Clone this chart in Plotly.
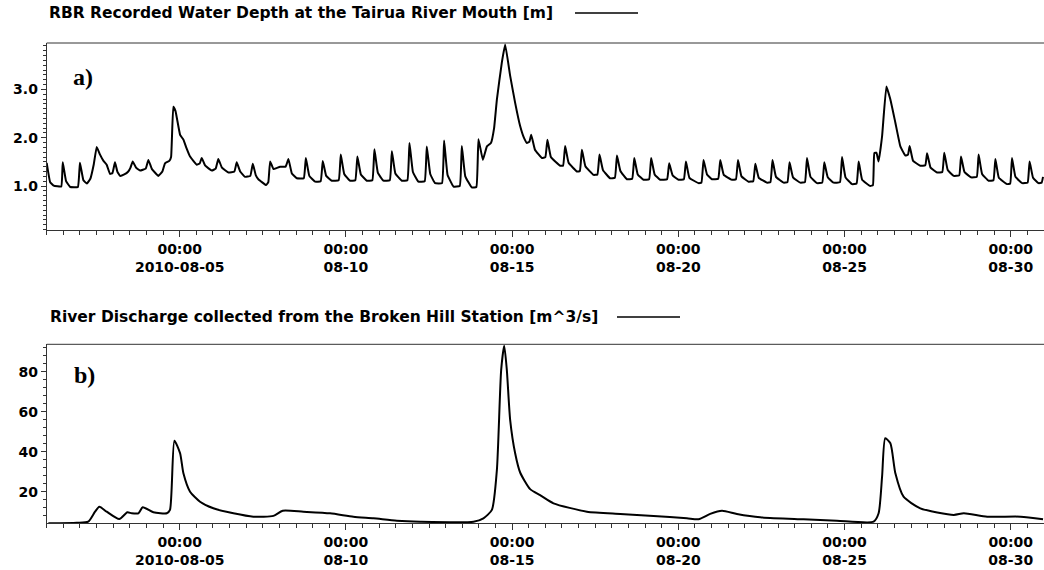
import pandas as pd
import plotly.graph_objects as go

START = "2010-08-01 00:00"

# (a) RBR water depth [m]: (hours since START, depth in m)
depth_readings = [
    (0.0, 1.48), (2.5, 1.08), (5.0, 1.01), (10.5, 0.99), (11.6, 1.49), (14.0, 1.10),
    (17.0, 0.98), (22.5, 0.98), (24.0, 1.48), (26.5, 1.12), (29.0, 1.05), (31.5, 1.15),
    (34.0, 1.45), (36.1, 1.81), (38.5, 1.65), (41.0, 1.52), (43.3, 1.44), (45.7, 1.25),
    (47.5, 1.27), (49.3, 1.49), (51.0, 1.30), (52.9, 1.21), (56.0, 1.24), (58.9, 1.30),
    (60.5, 1.38), (62.1, 1.51), (64.5, 1.38), (67.4, 1.32), (71.5, 1.36), (73.4, 1.54),
    (76.0, 1.35), (80.6, 1.21), (83.5, 1.30), (85.4, 1.47), (88.5, 1.52), (89.8, 1.60),
    (91.4, 2.64), (93.0, 2.55), (96.3, 2.06), (98.7, 1.96), (101.0, 1.78), (103.5, 1.61),
    (108.3, 1.44), (110.5, 1.47), (111.9, 1.58), (114.5, 1.42), (119.2, 1.32), (122.0, 1.36),
    (123.9, 1.56), (126.5, 1.38), (131.2, 1.28), (135.5, 1.30), (137.2, 1.49), (139.7, 1.30),
    (143.2, 1.19), (147.0, 1.21), (148.8, 1.46), (151.0, 1.22), (152.8, 1.14), (158.4, 1.02),
    (160.0, 1.08), (161.3, 1.51), (163.7, 1.35), (166.0, 1.37), (168.5, 1.40), (172.5, 1.40),
    (174.5, 1.56), (177.0, 1.26), (180.6, 1.16), (185.6, 1.16),
    (187.1, 1.58), (189.6, 1.21), (193.8, 1.09), (197.8, 1.10),
    (199.3, 1.52), (201.8, 1.21), (205.8, 1.11), (210.8, 1.12),
    (212.3, 1.65), (214.8, 1.25), (219.0, 1.11), (222.8, 1.12),
    (224.3, 1.61), (226.8, 1.24), (231.1, 1.11), (235.1, 1.12),
    (236.6, 1.76), (239.1, 1.27), (243.1, 1.11), (247.7, 1.12),
    (249.2, 1.72), (251.7, 1.26), (256.4, 1.11), (260.4, 1.12),
    (261.9, 1.89), (264.4, 1.29), (268.4, 1.09), (272.9, 1.10),
    (274.4, 1.82), (276.9, 1.25), (280.4, 1.06), (285.4, 1.06),
    (286.9, 1.94), (289.4, 1.23), (293.7, 0.99), (298.2, 1.00),
    (299.7, 1.83), (302.2, 1.20), (306.9, 0.97), (310.2, 0.98),
    (311.7, 1.97), (314.9, 1.54), (317.8, 1.82), (320.7, 1.89), (323.0, 2.20), (325.0, 2.79),
    (328.6, 3.56), (331.0, 3.93), (334.6, 3.28), (338.2, 2.72), (341.8, 2.24), (344.5, 2.00),
    (346.7, 1.89), (348.5, 1.92), (349.8, 2.06), (352.5, 1.75), (357.5, 1.58), (360.0, 1.60),
    (361.5, 1.96), (364.0, 1.60), (370.7, 1.42), (372.8, 1.42),
    (374.3, 1.83), (376.8, 1.48), (382.8, 1.30), (384.9, 1.31),
    (386.4, 1.75), (388.9, 1.41), (394.8, 1.23), (397.6, 1.24),
    (399.1, 1.65), (401.6, 1.33), (406.8, 1.16), (410.2, 1.17),
    (411.7, 1.63), (414.2, 1.31), (418.9, 1.14), (422.7, 1.15),
    (424.2, 1.58), (426.7, 1.24), (430.9, 1.13), (434.9, 1.14),
    (436.4, 1.58), (438.9, 1.24), (442.9, 1.13), (447.9, 1.14),
    (449.4, 1.47), (451.9, 1.22), (456.1, 1.13), (460.0, 1.14),
    (461.5, 1.51), (464.0, 1.17), (470.6, 1.06), (472.7, 1.07),
    (474.2, 1.54), (476.7, 1.24), (480.3, 1.14), (484.8, 1.15),
    (486.3, 1.54), (488.8, 1.23), (494.7, 1.13), (497.6, 1.14),
    (499.1, 1.54), (501.6, 1.20), (506.7, 1.09), (510.1, 1.10),
    (511.6, 1.46), (514.1, 1.17), (520.0, 1.07), (522.5, 1.08),
    (524.0, 1.54), (526.5, 1.19), (532.0, 1.07), (534.8, 1.08),
    (536.3, 1.49), (538.8, 1.18), (544.0, 1.07), (547.4, 1.08),
    (548.9, 1.58), (551.4, 1.19), (556.1, 1.06), (559.9, 1.07),
    (561.4, 1.49), (563.9, 1.18), (568.1, 1.07), (572.7, 1.08),
    (574.2, 1.60), (576.7, 1.18), (581.4, 1.04), (584.7, 1.05),
    (586.2, 1.51), (588.7, 1.13), (594.6, 1.00), (596.5, 1.02),
    (597.5, 1.68), (599.0, 1.69), (600.6, 1.51), (603.1, 2.03), (606.2, 3.06), (609.1, 2.79),
    (612.7, 2.31), (616.3, 1.82), (619.9, 1.63), (621.8, 1.65),
    (623.0, 1.83), (625.5, 1.52), (630.7, 1.42), (634.3, 1.43),
    (635.6, 1.68), (638.1, 1.38), (642.8, 1.28), (646.6, 1.29),
    (648.0, 1.69), (650.5, 1.33), (654.8, 1.21), (658.8, 1.22),
    (660.1, 1.61), (662.6, 1.29), (667.3, 1.18), (671.5, 1.19),
    (672.8, 1.65), (675.3, 1.25), (680.0, 1.11), (683.5, 1.12),
    (684.9, 1.56), (687.4, 1.17), (693.3, 1.04), (695.6, 1.05),
    (696.9, 1.58), (699.4, 1.19), (704.2, 1.06), (708.2, 1.07),
    (709.6, 1.51), (712.1, 1.17), (716.1, 1.06), (718.3, 1.07), (719.3, 1.19),
]

# (b) River discharge [m^3/s]: (hours since START, discharge)
flow_readings = [
    (1.2, 4.2), (21.7, 4.5), (30.0, 5.0), (34.9, 10.0), (38.0, 12.5), (43.3, 10.0),
    (52.4, 6.3), (58.2, 9.7), (61.4, 9.2), (66.2, 9.2), (69.3, 12.2), (77.0, 9.7),
    (86.7, 9.2), (89.0, 10.9), (92.2, 45.5), (96.3, 39.2), (98.7, 29.2), (103.5, 20.0),
    (110.7, 15.0), (120.3, 11.7), (134.8, 9.2), (149.2, 7.5), (163.7, 7.9), (170.4, 10.5),
    (185.3, 10.0), (204.6, 9.2), (221.4, 7.5), (235.9, 6.7), (252.8, 5.5), (269.6, 5.0),
    (308.1, 5.0), (315.3, 6.7), (321.4, 10.9), (325.0, 30.8), (328.1, 80.8), (330.3, 93.0),
    (332.2, 80.8), (334.6, 55.8), (338.2, 39.2), (341.8, 29.6), (349.0, 21.3), (356.2, 18.3),
    (365.9, 14.2), (390.0, 10.0), (414.1, 8.9), (438.1, 7.9), (462.2, 6.7), (470.6, 6.2),
    (479.0, 8.9), (487.5, 10.5), (498.3, 8.9), (515.1, 7.2), (546.4, 6.2), (570.5, 5.5),
    (597.0, 5.0), (600.6, 9.2), (603.1, 27.5), (605.4, 46.7), (609.1, 44.2), (612.7, 29.2),
    (618.6, 17.5), (630.7, 11.7), (654.8, 8.4), (662.1, 9.2), (679.0, 7.5), (703.1, 7.5),
    (719.3, 6.2),
]

tick_dates = ["2010-08-05", "2010-08-10", "2010-08-15", "2010-08-20", "2010-08-25", "2010-08-30"]
tick_text = ["00:00<br>2010-08-05", "00:00<br>08-10", "00:00<br>08-15",
             "00:00<br>08-20", "00:00<br>08-25", "00:00<br>08-30"]

title_a = "RBR Recorded Water Depth at the Tairua River Mouth [m]"
title_b = "River Discharge collected from the Broken Hill Station [m^3/s]"

t0 = pd.Timestamp(START)
depth_t = t0 + pd.to_timedelta([h for h, _ in depth_readings], unit="h")
depth_m = [v for _, v in depth_readings]
flow_t = t0 + pd.to_timedelta([h for h, _ in flow_readings], unit="h")
flow_m3s = [v for _, v in flow_readings]

W, H = 1044, 570
axcol = "#333333"
nogrid = "rgba(0,0,0,0)"
XRANGE = ["2010-08-01", "2010-08-31"]
XDOM = [46.7 / W, 1.0]
YDOM_A = [1 - 230 / H, 1 - 43 / H]
YDOM_B = [1 - 523.3 / H, 1 - 344.3 / H]
HALF_DAY_MS = 12 * 3600 * 1000

fig = go.Figure()
fig.add_trace(go.Scatter(x=depth_t, y=depth_m, mode="lines", xaxis="x", yaxis="y",
                         line=dict(color="black", width=2, shape="spline", smoothing=0.3),
                         showlegend=False))
fig.add_trace(go.Scatter(x=flow_t, y=flow_m3s, mode="lines", xaxis="x2", yaxis="y2",
                         line=dict(color="black", width=2, shape="spline", smoothing=0.6),
                         showlegend=False))

tickfont = dict(family="DejaVu Sans", size=14, color="black", weight="bold")


def xaxis_style(anchor):
    return dict(range=XRANGE, domain=XDOM, anchor=anchor, tickmode="array",
                tickvals=tick_dates, ticktext=tick_text, ticks="outside", ticklen=6,
                tickcolor=axcol, tickwidth=1, showline=True, linecolor=axcol, linewidth=1,
                gridcolor=nogrid, tickfont=tickfont,
                minor=dict(ticks="outside", ticklen=4, tickcolor=axcol, tickwidth=1,
                           dtick=HALF_DAY_MS, tick0="2010-08-01", gridcolor=nogrid))


def yaxis_style(rng, dom, dtick, minor_dtick, fmt, anchor):
    return dict(range=rng, domain=dom, anchor=anchor, dtick=dtick, tickformat=fmt,
                ticks="outside", ticklen=5, tickcolor=axcol, tickwidth=1, showline=True,
                linecolor=axcol, linewidth=1, gridcolor=nogrid, tickfont=tickfont,
                minor=dict(ticks="outside", ticklen=3, tickcolor=axcol, tickwidth=1,
                           dtick=minor_dtick, gridcolor=nogrid))


fig.update_layout(
    template="none",
    xaxis=xaxis_style("y"),
    xaxis2=xaxis_style("y2"),
    yaxis=yaxis_style([0.09, 3.96], YDOM_A, 1, 0.1, ".1f", "x"),
    yaxis2=yaxis_style([4.2, 93.7], YDOM_B, 20, 4, "", "x2"),
)

titlefont = dict(family="DejaVu Sans", size=15.5, color="black", weight="bold")
labelfont = dict(family="Liberation Serif", size=24, color="black", weight="bold")
fig.update_layout(
    annotations=[
        dict(text=title_a, xref="paper", yref="paper", x=47 / W, y=1 - 13 / H,
             xanchor="left", yanchor="middle", showarrow=False, font=titlefont),
        dict(text=title_b, xref="paper", yref="paper", x=48 / W, y=1 - 317 / H,
             xanchor="left", yanchor="middle", showarrow=False, font=titlefont),
        dict(text="a)", xref="paper", yref="paper", x=83 / W, y=1 - 77 / H,
             xanchor="center", yanchor="middle", showarrow=False, font=labelfont),
        dict(text="b)", xref="paper", yref="paper", x=85 / W, y=1 - 375 / H,
             xanchor="center", yanchor="middle", showarrow=False, font=labelfont),
    ],
    shapes=[
        # legend line samples next to the panel titles
        dict(type="line", xref="paper", yref="paper", x0=575 / W, x1=638 / W,
             y0=1 - 13 / H, y1=1 - 13 / H, line=dict(color="black", width=1.5)),
        dict(type="line", xref="paper", yref="paper", x0=617 / W, x1=680 / W,
             y0=1 - 317 / H, y1=1 - 317 / H, line=dict(color="black", width=1.5)),
        # top frame lines of both panels
        dict(type="line", xref="paper", yref="paper", x0=XDOM[0], x1=XDOM[1],
             y0=YDOM_A[1], y1=YDOM_A[1], line=dict(color=axcol, width=1)),
        dict(type="line", xref="paper", yref="paper", x0=XDOM[0], x1=XDOM[1],
             y0=YDOM_B[1], y1=YDOM_B[1], line=dict(color=axcol, width=1)),
    ],
    width=W, height=H, margin=dict(l=0, r=0, t=0, b=0),
    paper_bgcolor="white", plot_bgcolor="white", showlegend=False,
)

fig.write_html("out.html")
